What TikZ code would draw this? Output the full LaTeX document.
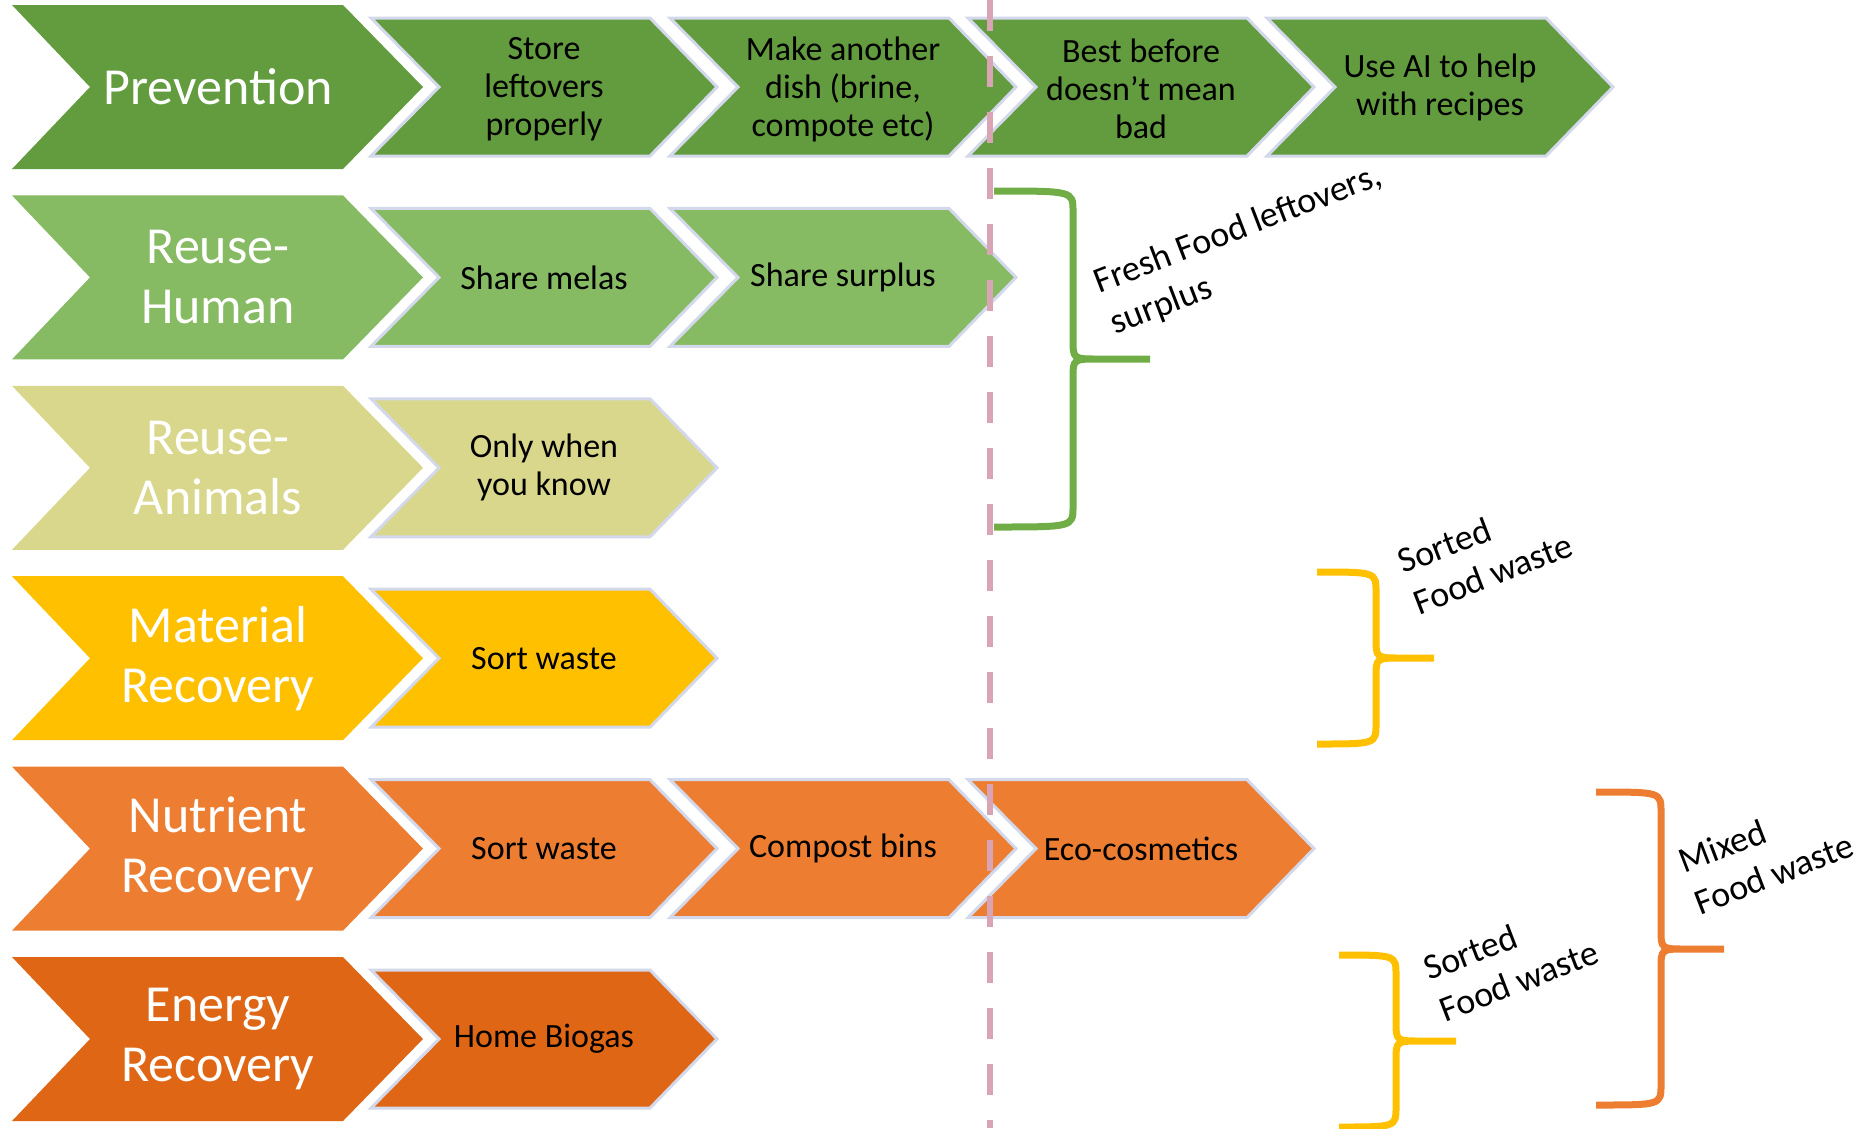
\documentclass[tikz,border=0pt]{standalone}
\usepackage{fontspec}
\setmainfont{Carlito}
\definecolor{prevgreen}{HTML}{639B3F}
\definecolor{humangreen}{HTML}{86BA63}
\definecolor{animalkhaki}{HTML}{D9D78C}
\definecolor{materialyellow}{HTML}{FFC000}
\definecolor{nutrientorange}{HTML}{ED7D31}
\definecolor{energyorange}{HTML}{DF6614}
\definecolor{rim}{HTML}{D3D8EA}
\definecolor{dashpink}{HTML}{D9A5B4}
\definecolor{bracegreen}{HTML}{70AD47}

\begin{document}
\begin{tikzpicture}[x=1pt,y=-1pt,
    stage/.style={text=white, align=center, font=\fontsize{52}{60}\selectfont},
    action/.style={text=black, align=center, font=\fontsize{34}{38}\selectfont},
    note/.style={anchor=west, rotate=21, inner sep=0pt, align=left, font=\fontsize{36}{44}\selectfont},
    rimline/.style={draw=rim, line width=3pt},
    curlyline/.style={line width=7pt}]
    \useasboundingbox (0,0) rectangle (1870,1128);
    % big chevron: left x, top y, colour
    \def\bigchev#1#2#3{\fill[#3] (#1,#2) -- ++(331,0) -- ++(80,82) -- ++(-80,82) -- ++(-331,0) -- ++(78,-82) -- cycle;}
    % small chevron: left x, top y, colour
    \def\stepchev#1#2#3{\filldraw[fill=#3, rimline] (#1,#2) -- ++(279,0) -- ++(67,69) -- ++(-67,69) -- ++(-279,0) -- ++(68,-69) -- cycle;}
    % right brace: x0, y top, x bar, x tip, y mid, y bottom, colour
    \def\curly#1#2#3#4#5#6#7{\draw[curlyline, #7] (#1,#2) .. controls (#3,#2) .. (#3,#2+20) -- (#3,#5-20) .. controls (#3,#5) .. (#3+25,#5) -- (#4,#5) (#3+25,#5) .. controls (#3,#5) .. (#3,#5+20) -- (#3,#6-20) .. controls (#3,#6) .. (#1,#6);}
    \def\xa{371}
    \def\xb{670}
    \def\xc{968}
    \def\xd{1267}

    % prevention
    \bigchev{12}{5}{prevgreen}
    \stepchev{\xa}{18}{prevgreen}
    \stepchev{\xb}{18}{prevgreen}
    \stepchev{\xc}{18}{prevgreen}
    \stepchev{\xd}{18}{prevgreen}
    \node[stage] (prev) at (218,87) {Prevention};
    \node[action] (store) at (\xa+173,89) {Store\\leftovers\\properly};
    \node[action] (dish) at (\xb+173,89) {Make another\\dish (brine,\\compote etc)};
    \node[action] (best) at (\xc+173,89) {Best before\\doesn’t mean\\bad};
    \node[action] (ai) at (\xd+173,87) {Use AI to help\\with recipes};

    % reuse - human
    \bigchev{12}{195.4}{humangreen}
    \stepchev{\xa}{208.4}{humangreen}
    \stepchev{\xb}{208.4}{humangreen}
    \node[stage] (human) at (218,277.4) {Reuse-\\Human};
    \node[action] (meals) at (\xa+173,277.4) {Share melas};
    \node[action] (surplus) at (\xb+173,277.4) {Share surplus};

    % reuse - animals
    \bigchev{12}{385.8}{animalkhaki}
    \stepchev{\xa}{398.8}{animalkhaki}
    \node[stage] (animal) at (218,467.8) {Reuse-\\Animals};
    \node[action] (know) at (\xa+173,467.8) {Only when\\you know};

    % material recovery
    \bigchev{12}{576.2}{materialyellow}
    \stepchev{\xa}{589.2}{materialyellow}
    \node[stage] (material) at (218,658.2) {Material\\Recovery};
    \node[action] (sortA) at (\xa+173,658.2) {Sort waste};

    % nutrient recovery
    \bigchev{12}{766.6}{nutrientorange}
    \stepchev{\xa}{779.6}{nutrientorange}
    \stepchev{\xb}{779.6}{nutrientorange}
    \stepchev{\xc}{779.6}{nutrientorange}
    \node[stage] (nutrient) at (218,848.6) {Nutrient\\Recovery};
    \node[action] (sortB) at (\xa+173,848.6) {Sort waste};
    \node[action] (compost) at (\xb+173,848.6) {Compost bins};
    \node[action] (cosmetic) at (\xc+173,848.6) {Eco-cosmetics};

    % energy recovery
    \bigchev{12}{957}{energyorange}
    \stepchev{\xa}{970}{energyorange}
    \node[stage] (energy) at (218,1039) {Energy\\Recovery};
    \node[action] (biogas) at (\xa+173,1039) {Home Biogas};

    % divider
    \draw[dashpink, line width=6pt, dash pattern=on 31pt off 25pt] (990,0) -- (990,1128);

    % braces
    \curly{994}{191}{1073}{1150}{359}{527}{bracegreen}
    \curly{1317}{572}{1376}{1434}{658}{744}{materialyellow}
    \curly{1596}{792}{1661}{1724}{949}{1105}{nutrientorange}
    \curly{1339}{955}{1396}{1456}{1041}{1127}{materialyellow}
    \node[note] (fresh) at (1104,305) {Fresh Food leftovers,\\surplus};
    \node[note] (sortedA) at (1407,583) {Sorted\\Food waste};
    \node[note] (mixed) at (1688,883) {Mixed\\Food waste};
    \node[note] (sortedB) at (1433,990) {Sorted\\Food waste};
\end{tikzpicture}
\end{document}
